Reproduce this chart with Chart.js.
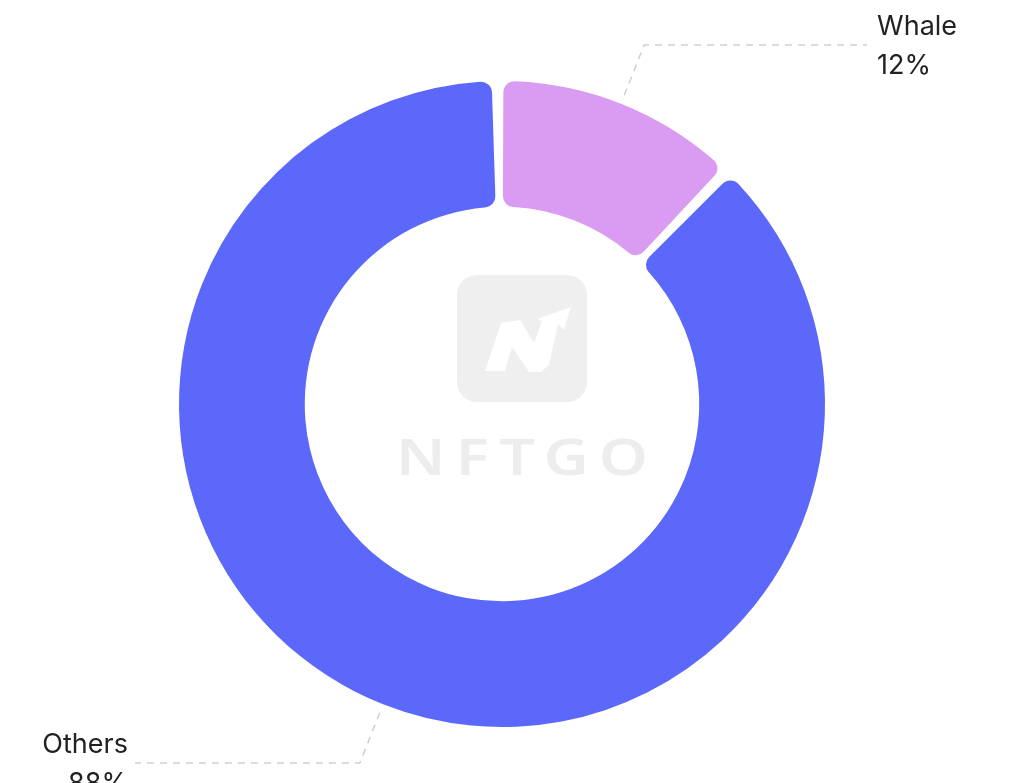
<!DOCTYPE html>
<html>
<head>
<meta charset="utf-8">
<script src="https://cdn.jsdelivr.net/npm/chart.js@4"></script>
<style>
  html, body { margin: 0; padding: 0; background: #fff; }
  #wrap { width: 1013px; height: 783px; position: relative; }
</style>
</head>
<body>
<div id="wrap"><canvas id="holders"></canvas></div>
<script>
const labels = ['Whale', 'Others'];
const shares = [12, 88];
const colors = ['#da9bf2', '#5b68fa'];

// leader lines + two-line labels, like the original
const leaderLabels = {
  id: 'leaderLabels',
  afterDatasetsDraw(chart) {
    const ctx = chart.ctx;
    const arcs = chart.getDatasetMeta(0).data;
    ctx.save();
    arcs.forEach((arc, i) => {
      const p = arc.getProps(['x', 'y', 'startAngle', 'endAngle', 'outerRadius']);
      const mid = (p.startAngle + p.endAngle) / 2;
      const cos = Math.cos(mid), sin = Math.sin(mid);
      const r1 = p.outerRadius + 12, r2 = p.outerRadius + 66;
      const x1 = p.x + cos * r1, y1 = p.y + sin * r1;
      const x2 = p.x + cos * r2, y2 = p.y + sin * r2;
      const right = cos >= 0;
      const x3 = x2 + (right ? 223 : -225);

      ctx.setLineDash([7, 6]);
      ctx.strokeStyle = '#cfcfcf';
      ctx.lineWidth = 1.5;
      ctx.beginPath();
      ctx.moveTo(x1, y1);
      ctx.lineTo(x2, y2);
      ctx.lineTo(x3, y2);
      ctx.stroke();
      ctx.setLineDash([]);

      ctx.fillStyle = '#222';
      ctx.font = '400 27px Inter, "Open Sans", sans-serif';
      ctx.textBaseline = 'middle';
      ctx.textAlign = right ? 'left' : 'right';
      const tx = x3 + (right ? 10 : -7);
      ctx.fillText(labels[i], tx, y2 - 18);
      ctx.fillText(shares[i] + '%', tx, y2 + 21);
    });
    ctx.restore();
  }
};

// faint NFTGO watermark in the hole
const watermark = {
  id: 'watermark',
  beforeDatasetsDraw(chart) {
    const ctx = chart.ctx;
    const arc = chart.getDatasetMeta(0).data[0];
    const cx = arc.x, cy = arc.y;
    const ox = cx - 45, oy = cy - 129;
    ctx.save();
    ctx.fillStyle = '#efefef';
    ctx.beginPath();
    ctx.roundRect(ox, oy, 130, 127, 20);
    ctx.fill();
    // white N mark
    ctx.fillStyle = '#fff';
    ctx.beginPath();
    const pts = [[28, 96], [44, 48], [63, 45], [77, 68], [85, 46], [80, 44], [114, 32],
                 [107, 55], [101, 49], [92, 90], [84, 97], [72, 97], [55, 72], [48, 96]];
    pts.forEach(([px, py], k) => k ? ctx.lineTo(ox + px, oy + py) : ctx.moveTo(ox + px, oy + py));
    ctx.closePath();
    ctx.fill();
    // wordmark
    ctx.fillStyle = '#ededed';
    ctx.font = '600 50px "Noto Sans", sans-serif';
    ctx.letterSpacing = '8px';
    ctx.textAlign = 'center';
    ctx.textBaseline = 'middle';
    ctx.translate(cx + 25, cy + 57);
    ctx.scale(1.25, 1);
    ctx.fillText('NFTGO', 0, 0);
    ctx.restore();
  }
};

new Chart(document.getElementById('holders'), {
  type: 'doughnut',
  data: {
    labels: labels,
    datasets: [{
      data: shares,
      backgroundColor: colors,
      borderWidth: 0,
      borderRadius: 11,
      spacing: 6
    }]
  },
  options: {
    responsive: true,
    maintainAspectRatio: false,
    animation: false,
    cutout: '60.7%',
    layout: { padding: { top: 81, bottom: 56, left: 0, right: 9 } },
    plugins: {
      legend: { display: false },
      tooltip: { enabled: false }
    }
  },
  plugins: [watermark, leaderLabels]
});
</script>
</body>
</html>
